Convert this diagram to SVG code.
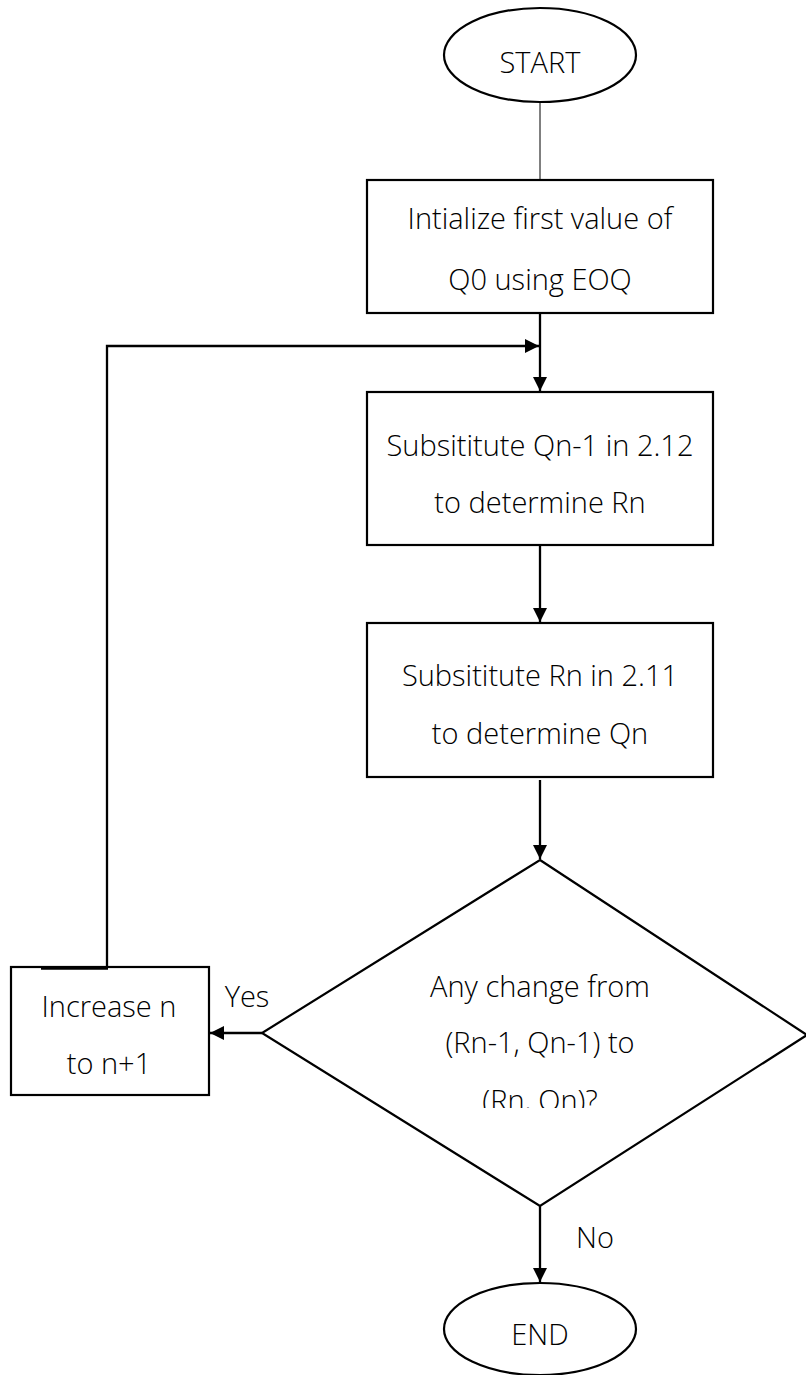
<svg xmlns="http://www.w3.org/2000/svg" width="806" height="1375" viewBox="0 0 806 1375">
  <style>
    .shape { fill: #ffffff; stroke: #000000; stroke-width: 2.2; }
    .label { font-family: "Open Sans", "Liberation Sans", sans-serif; font-weight: 300; font-size: 29px; fill: #000000; text-anchor: middle; }
    .wire { fill: none; stroke: #000000; stroke-width: 2.3; }
    .thin { fill: none; stroke: #000000; stroke-width: 1; }
  </style>
  <defs>
    <marker id="arrow" markerUnits="userSpaceOnUse" markerWidth="15" markerHeight="14" refX="14" refY="7" orient="auto">
      <path d="M0,0 L14,7 L0,14 z" fill="#000000"/>
    </marker>
    <clipPath id="decisionClip">
      <rect x="300" y="940" width="480" height="168"/>
    </clipPath>
  </defs>

  <rect width="806" height="1375" fill="#ffffff"/>

  <!-- connectors -->
  <g id="connectors">
    <line class="thin" x1="540" y1="102" x2="540" y2="180"/>
    <line class="wire" x1="540" y1="313" x2="540" y2="391" marker-end="url(#arrow)"/>
    <polyline class="wire" points="107,967 107,346 539,346" marker-end="url(#arrow)"/>
    <line class="wire" x1="540" y1="545" x2="540" y2="622" marker-end="url(#arrow)"/>
    <line class="wire" x1="540" y1="780" x2="540" y2="859" marker-end="url(#arrow)"/>
    <line class="wire" x1="262" y1="1033" x2="210" y2="1033" marker-end="url(#arrow)"/>
    <line class="wire" x1="540" y1="1206" x2="540" y2="1282" marker-end="url(#arrow)"/>
    <text class="label" x="247" y="1007">Yes</text>
    <text class="label" x="595" y="1248">No</text>
  </g>

  <g id="start">
    <ellipse class="shape" cx="540" cy="55" rx="96" ry="47"/>
    <text class="label" x="540" y="73">START</text>
  </g>

  <g id="init">
    <rect class="shape" x="367" y="180" width="346" height="133"/>
    <text class="label" x="540" y="229">Intialize first value of</text>
    <text class="label" x="540" y="290">Q0 using EOQ</text>
  </g>

  <g id="calc-r">
    <rect class="shape" x="367" y="392" width="346" height="153"/>
    <text class="label" x="540" y="456">Subsititute Qn-1 in 2.12</text>
    <text class="label" x="540" y="513">to determine Rn</text>
  </g>

  <g id="calc-q">
    <rect class="shape" x="367" y="623" width="346" height="154"/>
    <text class="label" x="540" y="686">Subsititute Rn in 2.11</text>
    <text class="label" x="540" y="744">to determine Qn</text>
  </g>

  <g id="decision">
    <polygon class="shape" points="540,860 807,1035 540,1206 262,1033"/>
    <text class="label" x="540" y="997">Any change from</text>
    <text class="label" x="540" y="1053">(Rn-1, Qn-1) to</text>
    <text class="label" x="540" y="1111" clip-path="url(#decisionClip)">(Rn, Qn)?</text>
  </g>

  <g id="increase">
    <rect class="shape" x="11" y="967" width="198" height="128"/>
    <line x1="41" y1="968" x2="108" y2="968" stroke="#000000" stroke-width="3.5"/>
    <text class="label" x="109" y="1017">Increase n</text>
    <text class="label" x="109" y="1074">to n+1</text>
  </g>

  <g id="end">
    <ellipse class="shape" cx="540" cy="1329" rx="96" ry="46"/>
    <text class="label" x="540" y="1345">END</text>
  </g>
</svg>
